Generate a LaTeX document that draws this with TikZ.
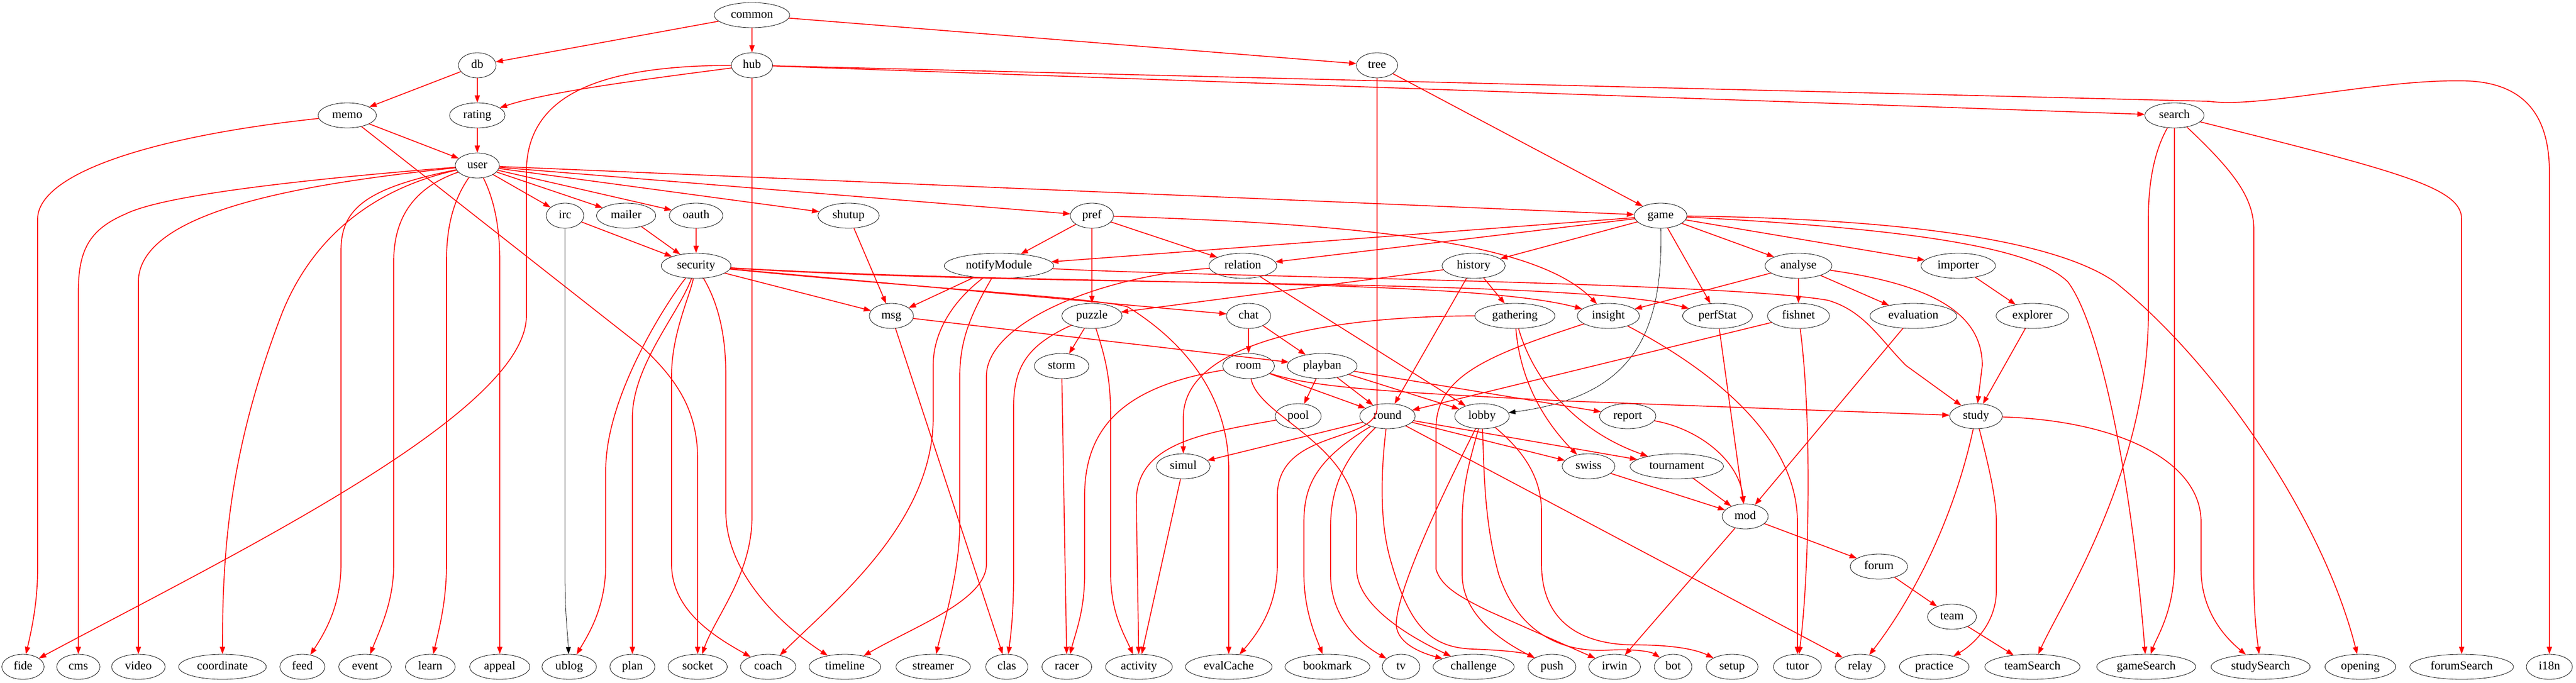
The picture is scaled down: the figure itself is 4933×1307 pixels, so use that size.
\documentclass[tikz,border=0pt]{standalone}
\usepackage{fontspec}
\setmainfont{Liberation Serif}
\usetikzlibrary{arrows.meta,shapes.geometric}
\begin{document}
\begin{tikzpicture}[x=0.75pt,y=-0.75pt,
  n/.style={draw=black,line width=0.6pt,ellipse,minimum width=54pt,minimum height=36pt,inner xsep=8pt,inner ysep=3pt,text height=11.8pt,text depth=3.8pt,font=\fontsize{17.3}{20}\selectfont},
  e/.style={draw=red,line width=1.25pt,-{Triangle[length=10.5pt,width=7.5pt]}},
  ek/.style={draw=black,line width=0.6pt,-{Triangle[length=10pt,width=7pt]}}]
\useasboundingbox (0,0) rectangle (4933,1307);
% rank 0-3
\node[n] (common) at (1440,29) {common};
\node[n] (db) at (914,125) {db};
\node[n] (hub) at (1440,125) {hub};
\node[n] (tree) at (2637,125) {tree};
\node[n] (memo) at (665,221) {memo};
\node[n] (rating) at (914,221) {rating};
\node[n] (search) at (4164,221) {search};
\node[n] (user) at (914,317) {user};
% rank 4
\node[n] (irc) at (1082,413) {irc};
\node[n] (mailer) at (1199,413) {mailer};
\node[n] (oauth) at (1333,413) {oauth};
\node[n] (shutup) at (1625,413) {shutup};
\node[n] (pref) at (2091,413) {pref};
\node[n] (game) at (3180,413) {game};
% rank 5
\node[n] (security) at (1333,509) {security};
\node[n] (notifyModule) at (1913,509) {notifyModule};
\node[n] (relation) at (2380,509) {relation};
\node[n] (history) at (2822,509) {history};
\node[n] (analyse) at (3444,509) {analyse};
\node[n] (importer) at (3750,509) {importer};
% rank 6
\node[n] (msg) at (1707,605) {msg};
\node[n] (puzzle) at (2091,605) {puzzle};
\node[n] (chat) at (2391,605) {chat};
\node[n] (gathering) at (2901,605) {gathering};
\node[n] (insight) at (3080,605) {insight};
\node[n] (perfStat) at (3289,605) {perfStat};
\node[n] (fishnet) at (3444,605) {fishnet};
\node[n] (evaluation) at (3664,605) {evaluation};
\node[n] (explorer) at (3892,605) {explorer};
% rank 7
\node[n] (storm) at (2033,701) {storm};
\node[n] (room) at (2391,701) {room};
\node[n] (playban) at (2532,701) {playban};
% rank 8
\node[n] (pool) at (2486,797) {pool};
\node[n] (round) at (2657,797) {round};
\node[n] (lobby) at (2838,797) {lobby};
\node[n] (report) at (3117,797) {report};
\node[n] (study) at (3784,797) {study};
% rank 9-12
\node[n] (simul) at (2266,893) {simul};
\node[n] (swiss) at (3042,893) {swiss};
\node[n] (tournament) at (3211,893) {tournament};
\node[n] (mod) at (3342,989) {mod};
\node[n] (forum) at (3598,1085) {forum};
\node[n] (team) at (3738,1181) {team};
% bottom rank
\node[n] (fide) at (44,1277) {fide};
\node[n] (cms) at (150,1277) {cms};
\node[n] (video) at (265,1277) {video};
\node[n] (coord) at (426,1277) {coordinate};
\node[n] (feed) at (579,1277) {feed};
\node[n] (event) at (699,1277) {event};
\node[n] (learn) at (824,1277) {learn};
\node[n] (appeal) at (957,1277) {appeal};
\node[n] (ublog) at (1090,1277) {ublog};
\node[n] (plan) at (1211,1277) {plan};
\node[n] (socket) at (1336,1277) {socket};
\node[n] (coach) at (1471,1277) {coach};
\node[n] (timeline) at (1618,1277) {timeline};
\node[n] (streamer) at (1787,1277) {streamer};
\node[n] (clas) at (1928,1277) {clas};
\node[n] (racer) at (2043,1277) {racer};
\node[n] (activity) at (2181,1277) {activity};
\node[n] (evalCache) at (2353,1277) {evalCache};
\node[n] (bookmark) at (2542,1277) {bookmark};
\node[n] (tv) at (2683,1277) {tv};
\node[n] (challenge) at (2822,1277) {challenge};
\node[n] (push) at (2972,1277) {push};
\node[n] (irwin) at (3092,1277) {irwin};
\node[n] (bot) at (3204,1277) {bot};
\node[n] (setup) at (3317,1277) {setup};
\node[n] (tutor) at (3442,1277) {tutor};
\node[n] (relay) at (3562,1277) {relay};
\node[n] (practice) at (3704,1277) {practice};
\node[n] (teamSearch) at (3892,1277) {teamSearch};
\node[n] (gameSearch) at (4110,1277) {gameSearch};
\node[n] (studySearch) at (4329,1277) {studySearch};
\node[n] (opening) at (4520,1277) {opening};
\node[n] (forumSearch) at (4714,1277) {forumSearch};
\node[n] (i18n) at (4882,1277) {i18n};
% ---- edges
\draw[e] (common) -- (hub);
\draw[e] (common) -- (db);
\draw[e] (common) -- (tree);
\draw[e] (db) -- (memo);
\draw[e] (db) -- (rating);
\draw[e] (hub) .. controls (1250,150) and (1050,175) .. (rating);
\draw[e] (hub) .. controls (1150,126) and (1008,180) .. (1008,330) -- (1008,605) .. controls (1008,790) and (450,1060) .. (fide);
\draw[e] (hub) -- (1440,990) .. controls (1440,1100) and (1370,1180) .. (socket);
\draw[e] (hub) -- (search);
\draw[e] (hub) -- (4230,194) .. controls (4330,208) and (4560,150) .. (4725,155) .. controls (4850,160) and (4882,240) .. (4882,330) -- (i18n);
\draw[e] (memo) -- (user);
\draw[e] (memo) .. controls (300,260) and (72,330) .. (72,420) -- (72,1090) .. controls (72,1150) and (62,1200) .. (fide);
\draw[e] (memo) -- (1230,665) .. controls (1300,730) and (1336,790) .. (1336,880) -- (socket);
\draw[e] (rating) -- (user);
% user
\draw[e] (user) -- (irc);
\draw[e] (user) -- (mailer);
\draw[e] (user) -- (oauth);
\draw[e] (user) -- (shutup);
\draw[e] (user) -- (pref);
\draw[e] (user) -- (game);
\draw[e] (user) .. controls (500,350) and (300,380) .. (240,410) .. controls (170,440) and (150,480) .. (150,560) -- (cms);
\draw[e] (user) .. controls (600,350) and (265,400) .. (265,540) -- (video);
\draw[e] (user) .. controls (720,360) and (600,450) .. (540,600) .. controls (440,860) and (426,1050) .. (coord);
\draw[e] (user) .. controls (700,360) and (653,400) .. (653,480) -- (653,1080) .. controls (653,1150) and (630,1200) .. (feed);
\draw[e] (user) .. controls (790,360) and (754,420) .. (754,500) -- (754,1080) .. controls (754,1150) and (730,1200) .. (event);
\draw[e] (user) .. controls (870,380) and (855,430) .. (855,500) -- (855,1080) .. controls (855,1150) and (842,1200) .. (learn);
\draw[e] (user) .. controls (945,380) and (957,430) .. (957,500) -- (appeal);
% rank 4 sources
\draw[e] (irc) -- (security);
\draw[ek] (irc) -- (1082,1100) .. controls (1082,1180) and (1087,1210) .. (ublog);
\draw[e] (mailer) -- (security);
\draw[e] (oauth) -- (security);
\draw[e] (shutup) -- (msg);
% security
\draw[e] (security) -- (msg);
\draw[e] (security) -- (chat);
\draw[e] (security) .. controls (1800,555) and (2100,570) .. (2160,588) .. controls (2260,650) and (2353,750) .. (2353,900) -- (evalCache);
\draw[e] (security) .. controls (2000,548) and (2800,530) .. (insight);
\draw[e] (security) .. controls (2000,552) and (3000,530) .. (perfStat);
\draw[e] (security) .. controls (1290,560) and (1160,750) .. (1160,900) -- (1160,1080) .. controls (1160,1160) and (1130,1210) .. (ublog);
\draw[e] (security) .. controls (1300,600) and (1211,700) .. (1211,800) -- (plan);
\draw[e] (security) .. controls (1320,570) and (1286,640) .. (1286,720) -- (1286,1080) .. controls (1286,1170) and (1370,1220) .. (coach);
\draw[e] (security) .. controls (1375,580) and (1390,640) .. (1390,720) -- (1390,980) .. controls (1390,1100) and (1500,1200) .. (timeline);
% notifyModule
\draw[e] (notifyModule) -- (msg);
\draw[e] (notifyModule) .. controls (2300,530) and (3300,540) .. (3500,575) .. controls (3570,595) and (3600,650) .. (3650,700) -- (study);
\draw[e] (notifyModule) .. controls (1820,580) and (1787,640) .. (1787,700) -- (1787,800) .. controls (1787,1000) and (1600,1150) .. (coach);
\draw[e] (notifyModule) .. controls (1860,600) and (1838,650) .. (1838,720) -- (1838,1000) .. controls (1838,1100) and (1805,1200) .. (streamer);
% pref
\draw[e] (pref) -- (notifyModule);
\draw[e] (pref) -- (puzzle);
\draw[e] (pref) -- (relation);
\draw[e] (pref) .. controls (2650,430) and (2950,470) .. (insight);
% game
\draw[e] (game) -- (notifyModule);
\draw[e] (game) -- (relation);
\draw[e] (game) -- (history);
\draw[e] (game) -- (analyse);
\draw[e] (game) -- (importer);
\draw[e] (game) -- (perfStat);
\draw[ek] (game) .. controls (3185,650) and (3120,760) .. (lobby);
\draw[e] (game) .. controls (3700,440) and (3900,480) .. (3960,540) .. controls (4020,620) and (4080,900) .. (gameSearch);
\draw[e] (game) .. controls (3700,420) and (3950,470) .. (4050,540) .. controls (4250,700) and (4450,1000) .. (opening);
% rank 5
\draw[e] (history) -- (puzzle);
\draw[e] (history) -- (gathering);
\draw[e] (history) -- (round);
\draw[e] (relation) .. controls (2100,530) and (1889,620) .. (1889,720) -- (1889,1080) .. controls (1889,1150) and (1750,1200) .. (timeline);
\draw[e] (relation) -- (lobby);
\draw[e] (analyse) -- (insight);
\draw[e] (analyse) -- (fishnet);
\draw[e] (analyse) -- (evaluation);
\draw[e] (analyse) .. controls (3700,545) and (3796,600) .. (3796,700) -- (study);
\draw[e] (importer) -- (explorer);
% rank 6
\draw[e] (explorer) -- (study);
\draw[e] (msg) -- (clas);
\draw[e] (msg) -- (playban);
\draw[e] (puzzle) -- (storm);
\draw[e] (puzzle) .. controls (2115,680) and (2127,720) .. (2127,800) -- (2127,1100) .. controls (2127,1170) and (2150,1210) .. (activity);
\draw[e] (puzzle) .. controls (1970,660) and (1941,700) .. (1941,780) -- (1941,1100) .. controls (1941,1180) and (1935,1220) .. (clas);
\draw[e] (chat) -- (room);
\draw[e] (chat) -- (playban);
\draw[e] (gathering) .. controls (2600,605) and (2266,640) .. (2266,800) -- (simul);
\draw[e] (gathering) .. controls (2910,720) and (2950,800) .. (swiss);
\draw[e] (gathering) .. controls (2940,740) and (3030,830) .. (tournament);
\draw[e] (insight) .. controls (2850,680) and (2750,720) .. (2750,820) -- (2750,1090) .. controls (2760,1125) and (2800,1145) .. (2850,1170) -- (irwin);
\draw[e] (insight) .. controls (3300,720) and (3442,850) .. (3442,1000) -- (tutor);
\draw[e] (perfStat) -- (mod);
\draw[e] (fishnet) -- (round);
\draw[e] (fishnet) .. controls (3470,800) and (3465,1100) .. (tutor);
\draw[e] (evaluation) -- (mod);
% rank 7
\draw[e] (storm) -- (racer);
\draw[e] (room) -- (round);
\draw[e] (room) .. controls (2150,740) and (2077,820) .. (2077,950) -- (2077,1100) .. controls (2077,1170) and (2060,1210) .. (racer);
\draw[e] (room) .. controls (2410,800) and (2598,850) .. (2598,1000) -- (2598,1090) .. controls (2598,1160) and (2700,1220) .. (challenge);
\draw[e] (room) .. controls (2520,745) and (2700,752) .. (3000,768) -- (study);
\draw[e] (playban) -- (pool);
\draw[e] (playban) -- (round);
\draw[e] (playban) -- (lobby);
\draw[e] (playban) -- (report);
% rank 8
\draw[e] (pool) .. controls (2300,830) and (2176,850) .. (2176,960) -- (activity);
\draw[e] (round) -- (simul);
\draw[e] (round) -- (swiss);
\draw[e] (round) -- (tournament);
\draw[e] (round) .. controls (2520,880) and (2497,930) .. (2497,1000) -- (2497,1100) .. controls (2497,1170) and (2520,1220) .. (bookmark);
\draw[e] (round) .. controls (2570,880) and (2548,940) .. (2548,1010) -- (2548,1100) .. controls (2548,1180) and (2600,1230) .. (tv);
\draw[e] (round) .. controls (2645,900) and (2640,1000) .. (2665,1080) .. controls (2700,1200) and (2740,1240) .. (2820,1243) .. controls (2880,1245) and (2920,1250) .. (push);
\draw[e] (round) -- (relay);
\draw[e] (lobby) .. controls (2760,950) and (2680,1120) .. (2674,1190) .. controls (2670,1230) and (2720,1250) .. (challenge);
\draw[e] (lobby) .. controls (2815,880) and (2800,930) .. (2800,1000) -- (2800,1100) .. controls (2800,1180) and (2880,1230) .. (push);
\draw[e] (lobby) .. controls (2842,900) and (2842,1000) .. (2870,1100) .. controls (2910,1220) and (3000,1250) .. (3080,1245) .. controls (3140,1242) and (3165,1250) .. (bot);
\draw[e] (lobby) .. controls (2900,850) and (2952,900) .. (2952,980) -- (2952,1080) .. controls (2952,1200) and (3040,1235) .. (3130,1235) .. controls (3210,1235) and (3250,1245) .. (setup);
\draw[e] (report) .. controls (3250,820) and (3330,880) .. (mod);
\draw[e] (study) .. controls (3740,1000) and (3660,1150) .. (relay);
\draw[e] (study) .. controls (3805,880) and (3823,950) .. (3823,1000) -- (3823,1130) .. controls (3823,1200) and (3770,1240) .. (practice);
\draw[e] (study) .. controls (4050,805) and (4215,880) .. (4215,1000) -- (4215,1090) .. controls (4215,1170) and (4260,1220) .. (studySearch);
% rank 9+
\draw[e] (simul) -- (activity);
\draw[e] (swiss) -- (mod);
\draw[e] (tournament) -- (mod);
\draw[e] (mod) -- (forum);
\draw[e] (mod) -- (irwin);
\draw[e] (forum) -- (team);
\draw[e] (team) -- (teamSearch);
% search, tree
\draw[e] (search) .. controls (4125,290) and (4114,350) .. (4114,420) -- (4114,600) .. controls (4114,900) and (3950,1150) .. (teamSearch);
\draw[e] (search) -- (4164,1080) .. controls (4164,1170) and (4130,1220) .. (gameSearch);
\draw[e] (search) .. controls (4280,330) and (4316,380) .. (4316,440) -- (4316,1100) .. controls (4316,1180) and (4322,1220) .. (studySearch);
\draw[e] (search) .. controls (4600,330) and (4714,360) .. (4714,420) -- (forumSearch);
\draw[e] (tree) -- (game);
\draw[e] (tree) -- (2637,780) .. controls (2637,850) and (2446,820) .. (2446,950) -- (2446,1080) .. controls (2446,1150) and (2420,1200) .. (evalCache);
\end{tikzpicture}
\end{document}
